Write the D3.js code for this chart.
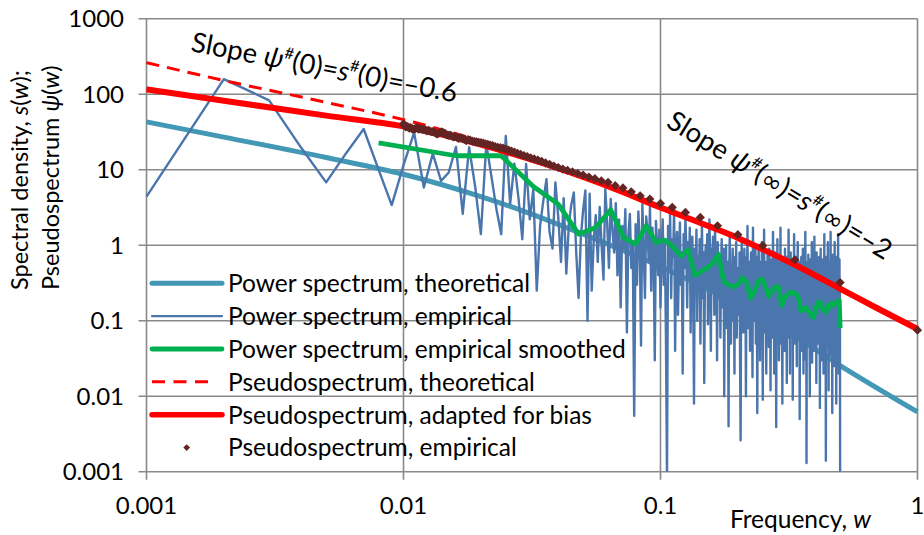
<!DOCTYPE html>
<html><head><meta charset="utf-8">
<script src="https://cdn.jsdelivr.net/npm/d3@7"></script>
<style>
body{margin:0;background:#fff}
svg{display:block}
text{font-family:Lato,"Open Sans",sans-serif;fill:#000}
</style>
</head><body>
<svg id="chart" width="924" height="535"></svg>
<script>
// ---------- data ----------
const xTicks = [0.001, 0.01, 0.1, 1];
const xTickLabels = ["0.001", "0.01", "0.1", "1"];
const yTicks = [0.001, 0.01, 0.1, 1, 10, 100, 1000];
const yTickLabels = ["0.001", "0.01", "0.1", "1", "10", "100", "1000"];

const seriesNames = [
  "Power spectrum, theoretical",
  "Power spectrum, empirical",
  "Power spectrum, empirical smoothed",
  "Pseudospectrum, theoretical",
  "Pseudospectrum, adapted for bias",
  "Pseudospectrum, empirical"
];

// theoretical power spectrum (frequency, value)
const theoPowerW = [0.001, 0.002, 0.005, 0.01, 0.02, 0.03, 0.05, 0.1, 0.2, 0.3, 0.5, 1];
const theoPowerV = [43, 27, 14.5, 8.7, 4.4, 2.75, 1.4, 0.52, 0.165, 0.078, 0.0255, 0.0062];

// empirical power spectrum at w = k/1000, k = 1..500
const empFreqStep = 0.001;
const empPower = [
  4.4,158,83,19.5,6.8,16.8,34.6,10,3.4,11.5,
  31,5.8,16.3,7.1,9.2,20,2.6,19.8,6,1.4,
  22,8,3,1.4,28,3.5,12,4.3,1.2,11.9,
  2.2,5.5,0.25,1.8,3.9,7.5,1.5,0.9,6.8,2.4,
  0.6,4.2,0.42,1.9,3.5,5.0,0.8,0.2,1.3,2.9,
  5.3,0.1,4.8,0.25,1.2,2.5,0.6,3.2,1.0,0.35,
  5.5,2.0,0.5,4.1,1.6,0.8,3.6,0.4,2.2,0.15,
  1.8,0.9,3.0,0.07,1.4,2.6,0.5,1.1,0.0055,1.9,
  0.3,2.8,1.2,0.047,3.5,0.9,0.2,2.4,1.5,0.6,
  3.3,0.25,1.7,0.8,0.03,2.1,1.0,0.4,1.6,0.15,
  0.9,2.2,0.3,1.1,0.06,0.0008,1.8,0.5,2.6,0.2,
  1.2,0.7,3.1,0.04,0.9,1.5,0.12,0.6,2.0,0.3,
  0.8,0.02,1.4,0.5,2.4,0.9,0.15,1.1,0.4,1.7,
  0.07,0.6,1.3,0.25,0.008,0.9,0.45,1.6,0.1,0.7,
  0.35,1.2,0.05,0.55,1.9,0.2,0.8,0.015,0.6,1.0,
  0.3,1.4,0.09,0.5,2.2,0.7,0.04,0.9,0.25,1.3,
  0.6,0.12,1.8,0.4,0.8,0.03,1.1,0.5,0.2,0.7,
  0.06,0.45,1.2,0.15,0.35,0.9,0.01,0.5,0.25,1.0,
  0.08,0.3,0.6,0.004,0.4,1.4,0.2,0.05,0.55,0.3,
  0.9,0.1,0.35,0.02,0.7,0.25,1.1,0.06,0.4,0.18,
  0.5,0.12,0.8,0.03,0.0026,0.4,1.1,0.2,0.6,0.07,
  0.35,0.9,0.15,0.5,0.01,0.7,0.25,1.8,0.08,0.4,
  0.2,0.6,0.04,0.3,0.8,0.12,0.45,0.018,1.7,0.3,
  0.1,0.55,0.25,0.9,0.05,0.35,0.7,0.006,0.2,0.5,
  1.0,0.15,0.4,0.03,0.6,0.25,0.09,1.1,0.35,0.009,
  0.45,0.2,1.6,0.07,0.3,0.6,0.14,0.02,0.5,0.25,
  0.75,0.1,0.4,0.045,0.9,0.2,0.55,0.012,0.35,0.15,
  0.65,0.3,0.06,1.5,0.25,0.45,0.02,0.3,0.8,0.12,
  0.4,0.0039,0.5,0.2,1.2,0.08,0.35,0.6,0.03,0.25,
  0.45,0.15,1.7,0.05,0.3,0.7,0.1,0.008,0.4,0.22,
  0.6,0.15,0.35,0.04,0.9,0.25,0.5,0.1,0.3,0.015,
  0.7,0.2,0.45,0.06,1.6,0.3,0.12,0.55,0.02,0.35,
  0.8,0.18,0.4,0.07,0.25,0.6,0.009,0.3,0.5,0.14,
  1.4,0.22,0.05,0.4,0.2,0.7,0.11,0.3,0.025,0.5,
  0.15,1.1,0.25,0.06,0.4,0.18,0.6,0.005,0.3,0.45,
  0.1,0.35,0.7,0.04,0.2,0.5,0.13,0.9,0.25,0.02,
  0.4,0.16,0.55,0.08,0.3,1.5,0.2,0.03,0.45,0.0013,
  0.35,0.6,0.12,0.25,0.05,0.75,0.18,0.4,0.09,0.3,
  0.01,0.5,0.22,0.65,0.07,0.35,0.15,1.1,0.028,0.3,
  0.45,0.11,0.6,0.2,0.04,0.35,1.3,0.14,0.3,0.06,
  0.5,0.2,0.35,0.015,0.8,0.25,0.45,0.09,0.3,0.6,
  0.05,0.4,0.18,0.7,0.12,0.3,0.007,0.5,0.22,0.9,
  0.1,0.35,0.03,0.55,0.2,0.4,0.08,0.65,0.15,0.3,
  0.02,0.45,0.25,1.4,0.06,0.3,0.5,0.13,0.35,0.0014,
  0.4,0.7,0.16,0.3,0.045,0.55,0.2,1.1,0.1,0.35,
  0.012,0.45,0.25,0.6,0.07,0.3,0.5,0.15,1.5,0.2,
  0.035,0.4,0.65,0.11,0.3,0.006,0.5,0.2,0.75,0.09,
  0.35,0.55,0.025,0.4,0.18,1.1,0.13,0.3,0.05,0.6,
  0.22,0.45,0.008,0.35,0.7,0.15,0.4,0.06,0.55,0.25,
  1.4,0.1,0.3,0.02,0.5,0.2,0.65,0.12,0.35,0.001
];

// smoothed empirical power spectrum (k index, value); w = k/1000
const smoothK = [8,16,24,32,40,48,56,64,72,80,88,96,104,112,120,128,136,144,152,160,
  168,176,184,192,200,208,216,224,232,240,248,256,264,272,280,288,296,304,312,320,
  328,336,344,352,360,368,376,384,392,400,408,416,424,432,440,448,456,464,472,480,488,496,500];
const smoothV = [22.6,15.3,15.3,6.0,3.5,1.4,1.72,2.95,1.25,1.04,1.81,1.09,1.17,0.95,0.72,0.87,0.4,0.45,0.5,0.58,
  0.76,0.33,0.3,0.28,0.3,0.37,0.33,0.2,0.24,0.33,0.36,0.28,0.21,0.25,0.28,0.28,0.16,0.2,0.22,0.24,
  0.23,0.23,0.2,0.135,0.14,0.15,0.135,0.12,0.11,0.13,0.17,0.18,0.15,0.14,0.13,0.16,0.15,0.17,0.16,0.17,0.18,0.185,0.08];

// theoretical pseudospectrum
const pseudoTheoW = [0.001, 0.002, 0.005, 0.01, 0.02, 0.03, 0.05, 0.07, 0.1, 0.15, 0.2, 0.25, 0.333, 0.5, 0.7, 1];
const pseudoTheoV = [262, 152, 78, 46, 24, 15.5, 8.4, 5.4, 3.25, 1.88, 1.27, 0.89, 0.555, 0.267, 0.146, 0.078];

// pseudospectrum adapted for bias
const pseudoAdjW = [0.001, 0.002, 0.005, 0.01, 0.02, 0.03, 0.05, 0.07, 0.1, 0.15, 0.2, 0.25, 0.333, 0.5, 0.7, 1];
const pseudoAdjV = [116, 82, 52, 37.5, 21.5, 14.3, 8.0, 5.2, 3.15, 1.85, 1.25, 0.88, 0.55, 0.265, 0.145, 0.0776];

// empirical pseudospectrum at w = 1/k, k = 1..100
const pseudoEmp = [
  0.075,0.32,0.64,0.985,1.38,1.81,2.33,2.72,3.17,3.57,
  4.09,4.52,5.1,5.73,6.15,6.8,7.14,7.6,8.0,8.5,
  8.9,9.4,9.8,10.2,10.7,11.2,11.8,12.3,12.9,13.4,
  13.9,14.3,14.9,15.4,16.0,16.5,17.1,17.6,18.2,18.7,
  19.3,19.6,19.8,20.3,20.9,21.2,21.6,22.0,22.5,22.8,
  23.0,23.4,23.6,23.9,24.6,25.0,24.3,25.2,26.0,26.4,
  26.0,26.9,27.5,27.2,28.0,28.7,28.4,29.2,30.1,30.8,
  31.6,31.2,30.3,29.7,30.5,31.4,32.0,31.8,32.5,33.1,
  32.6,33.4,34.2,33.8,34.5,35.0,34.4,35.2,35.8,35.1,
  34.6,34.4,35.3,36.2,35.5,36.8,37.5,36.9,38.6,40.5
];

// ---------- drawing ----------
const m = {left: 146.5, right: 917.5, top: 18.7, bottom: 471.7};
const svg = d3.select("#chart");
const x = d3.scaleLog().domain([0.001, 1]).range([m.left, m.right]);
const y = d3.scaleLog().domain([0.001, 1000]).range([m.bottom, m.top]);

const C = {
  grid: "#898989",
  teal: "#4298b5",
  blue: "#4a76ad",
  green: "#00b050",
  red: "#ff0000",
  brown: "#632523"
};

svg.append("defs").append("clipPath").attr("id", "clip")
  .append("rect").attr("x", m.left - 10).attr("y", 5)
  .attr("width", m.right - m.left + 20).attr("height", m.bottom - 5);

// grid
const g = svg.append("g");
g.selectAll(".vg").data(xTicks).join("line")
  .attr("x1", d => x(d)).attr("x2", d => x(d))
  .attr("y1", m.top).attr("y2", m.bottom + 8)
  .attr("stroke", C.grid).attr("stroke-width", 1.6);
g.selectAll(".hg").data(yTicks).join("line")
  .attr("x1", m.left - 8).attr("x2", m.right)
  .attr("y1", d => y(d)).attr("y2", d => y(d))
  .attr("stroke", C.grid).attr("stroke-width", 1.6);

// tick labels
g.selectAll(".yl").data(yTicks).join("text")
  .attr("x", 124).attr("y", d => y(d)).attr("dy", "0.36em")
  .attr("text-anchor", "end").attr("font-size", 24)
  .text((d, i) => yTickLabels[i]);
g.selectAll(".xl").data(xTicks).join("text")
  .attr("x", d => x(d)).attr("y", 514)
  .attr("text-anchor", "middle").attr("font-size", 24)
  .text((d, i) => xTickLabels[i]);

// axis titles
const xt = svg.append("text").attr("x", 871).attr("y", 528)
  .attr("text-anchor", "end").attr("font-size", 24.5);
xt.append("tspan").text("Frequency, ");
xt.append("tspan").attr("font-style", "italic").text("w");

const yt1 = svg.append("text").attr("transform", "translate(28,290) rotate(-90)")
  .attr("font-size", 23.5);
yt1.append("tspan").text("Spectral density, ");
yt1.append("tspan").attr("font-style", "italic").text("s");
yt1.append("tspan").text("(");
yt1.append("tspan").attr("font-style", "italic").text("w");
yt1.append("tspan").text(");");
const yt2 = svg.append("text").attr("transform", "translate(59,290) rotate(-90)")
  .attr("font-size", 23.5);
yt2.append("tspan").text("Pseudospectrum ");
yt2.append("tspan").attr("font-style", "italic").text("ψ");
yt2.append("tspan").text("(");
yt2.append("tspan").attr("font-style", "italic").text("w");
yt2.append("tspan").text(")");

// series
const plot = svg.append("g").attr("clip-path", "url(#clip)");
const line = d3.line().x(d => x(d[0])).y(d => y(d[1]));
const smooth = d3.line().x(d => x(d[0])).y(d => y(d[1])).curve(d3.curveMonotoneX);

plot.append("path").datum(theoPowerW.map((w, i) => [w, theoPowerV[i]]))
  .attr("d", smooth).attr("fill", "none").attr("stroke", C.teal).attr("stroke-width", 5);

plot.append("path").datum(empPower.map((v, i) => [(i + 1) * empFreqStep, v]))
  .attr("d", line).attr("fill", "none").attr("stroke", C.blue).attr("stroke-width", 2.4)
  .attr("stroke-linejoin", "round");

plot.append("path").datum(smoothK.map((k, i) => [k * empFreqStep, smoothV[i]]))
  .attr("d", line).attr("fill", "none").attr("stroke", C.green).attr("stroke-width", 4.8)
  .attr("stroke-linejoin", "round");

plot.append("path").datum(pseudoTheoW.map((w, i) => [w, pseudoTheoV[i]]))
  .attr("d", smooth).attr("fill", "none").attr("stroke", C.red).attr("stroke-width", 3)
  .attr("stroke-dasharray", "13,8");

plot.append("path").datum(pseudoAdjW.map((w, i) => [w, pseudoAdjV[i]]))
  .attr("d", smooth).attr("fill", "none").attr("stroke", C.red).attr("stroke-width", 6);

const diamond = r => `M0,${-r}L${r},0L0,${r}L${-r},0Z`;
plot.selectAll(".dm").data(pseudoEmp).join("path")
  .attr("transform", (v, i) => `translate(${x(1 / (i + 1))},${y(v)})`)
  .attr("d", diamond(4.6)).attr("fill", C.brown);

// annotations
function slopeText(tx, ty, ang, arg, val) {
  const t = svg.append("text").attr("transform", `translate(${tx},${ty}) rotate(${ang})`)
    .attr("font-size", 27.5);
  t.append("tspan").text("Slope ");
  t.append("tspan").attr("font-style", "italic").text("ψ");
  t.append("tspan").attr("font-size", 16).attr("dy", -11).text("#");
  t.append("tspan").attr("dy", 11).text("(");
  t.append("tspan").attr("font-family", arg === "0" ? null : "DejaVu Sans").attr("font-size", arg === "0" ? null : 25).text(arg);
  t.append("tspan").text(")=");
  t.append("tspan").attr("font-style", "italic").text("s");
  t.append("tspan").attr("font-size", 16).attr("dy", -11).text("#");
  t.append("tspan").attr("dy", 11).text("(");
  t.append("tspan").attr("font-family", arg === "0" ? null : "DejaVu Sans").attr("font-size", arg === "0" ? null : 25).text(arg);
  t.append("tspan").text(")=" + val);
}
slopeText(190, 51, 11, "0", "\u20130.6");
slopeText(665, 126, 31.5, "\u221E", "\u20132");

// legend
const lg = svg.append("g");
const rows = [
  {type: "line", color: C.teal, w: 5},
  {type: "line", color: C.blue, w: 2.2},
  {type: "line", color: C.green, w: 4.8},
  {type: "dash", color: C.red, w: 3},
  {type: "line", color: C.red, w: 5.5},
  {type: "dot", color: C.brown}
];
rows.forEach((r, i) => {
  const yy = 283.3 + i * 32.85;
  if (r.type === "dot") {
    lg.append("path").attr("transform", `translate(186.7,${yy})`).attr("d", diamond(3.4)).attr("fill", r.color);
  } else {
    lg.append("line").attr("x1", 152).attr("x2", r.type === "dash" ? 212 : 222)
      .attr("y1", yy).attr("y2", yy)
      .attr("stroke", r.color).attr("stroke-width", r.w).attr("stroke-linecap", r.type === "dash" ? "butt" : "round")
      .attr("stroke-dasharray", r.type === "dash" ? "13,8.5" : null);
  }
  lg.append("text").attr("x", 228).attr("y", yy).attr("dy", "0.36em")
    .attr("font-size", 24.5).text(seriesNames[i]);
});
</script>
</body></html>
